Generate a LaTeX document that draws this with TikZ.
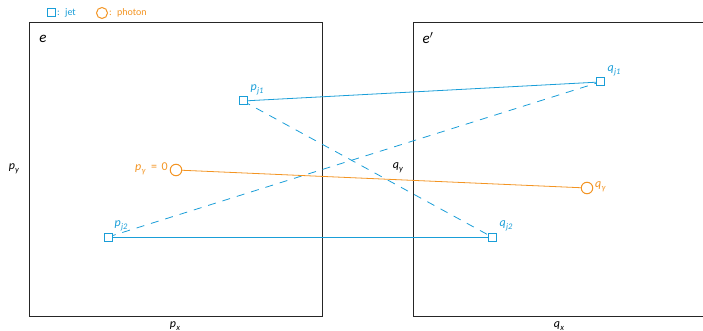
\documentclass[tikz,border=0pt]{standalone}
\usepackage{fontspec}
\setmainfont{Carlito}
\definecolor{jetblue}{HTML}{1A9ED8}
\definecolor{phorange}{HTML}{F39422}
\newcommand\mylb[2]{\textit{#1}\kern0.3pt\raisebox{-0.45ex}{\fontsize{8.5}{9}\selectfont\textit{#2}}}
\begin{document}
\begin{tikzpicture}[x=1pt,y=-1pt,
  frame/.style={draw=black!85,line width=0.9pt},
  jet/.style={draw=jetblue,line width=1pt,minimum size=8pt,inner sep=0pt,rectangle,fill=white},
  pho/.style={draw=phorange,line width=1pt,minimum size=11.5pt,inner sep=0pt,circle,fill=white},
  jline/.style={draw=jetblue,line width=0.8pt},
  jdash/.style={draw=jetblue,line width=0.8pt,dash pattern=on 8pt off 7pt},
  pline/.style={draw=phorange,line width=0.8pt},
  lab/.style={inner sep=0pt,font=\fontsize{12}{13}\selectfont},
  jlab/.style={lab,text=jetblue},
  plab/.style={lab,text=phorange},
  axlab/.style={lab,text=black}]
\useasboundingbox (0,0) rectangle (703,331);
\begin{scope}
\clip (0,0) rectangle (703,331);
\draw[frame] (29,22) rectangle (322,316);
\draw[frame] (413,22) rectangle (706,316);
\end{scope}
% legend
\node[jet,minimum size=8pt] (lj) at (51,13) {};
\node[jlab,anchor=west,font=\fontsize{10}{11}\selectfont] (ljt) at (57,13) {: \ jet};
\node[pho,minimum size=11pt] (lp) at (102,13) {};
\node[plab,anchor=west,font=\fontsize{10}{11}\selectfont] (lpt) at (109,13) {: \ photon};
% frame labels
\node[axlab,font=\fontsize{15}{16}\selectfont\itshape] (e) at (43,39) {e};
\node[axlab,font=\fontsize{15}{16}\selectfont\itshape] (ep) at (428,38) {e$'$};
\node[axlab] (py) at (14,169) {\mylb{p}{y}};
\node[axlab] (px) at (175,326) {\mylb{p}{x}};
\node[axlab] (qy) at (398,168) {\mylb{q}{y}};
\node[axlab] (qx) at (559,326) {\mylb{q}{x}};
% points
\coordinate (pj1c) at (243,101);
\coordinate (pj2c) at (108,237);
\coordinate (pgc) at (176,170);
\coordinate (qj1c) at (600,82);
\coordinate (qj2c) at (492,237);
\coordinate (qgc) at (587,188);
% connectors
\draw[jline] (pj1c) -- (qj1c);
\draw[jline] (pj2c) -- (qj2c);
\draw[jdash] (pj1c) -- (qj2c);
\draw[jdash] (pj2c) -- (qj1c);
\draw[pline] (pgc) -- (qgc);
% nodes
\node[jet] (pj1) at (pj1c) {};
\node[jet] (pj2) at (pj2c) {};
\node[pho] (pg) at (pgc) {};
\node[jet] (qj1) at (qj1c) {};
\node[jet] (qj2) at (qj2c) {};
\node[pho] (qg) at (qgc) {};
% labels
\node[jlab] (pj1l) at (257,90) {\mylb{p}{j1}};
\node[jlab] (pj2l) at (121,226) {\mylb{p}{j2}};
\node[plab,anchor=east] (pgl) at (168,169) {\mylb{p}{γ}\ \ = \,0};
\node[jlab] (qj1l) at (614,71) {\mylb{q}{j1}};
\node[jlab] (qj2l) at (506,226) {\mylb{q}{j2}};
\node[plab,anchor=west] (qgl) at (595,187) {\mylb{q}{γ}};
\end{tikzpicture}
\end{document}
